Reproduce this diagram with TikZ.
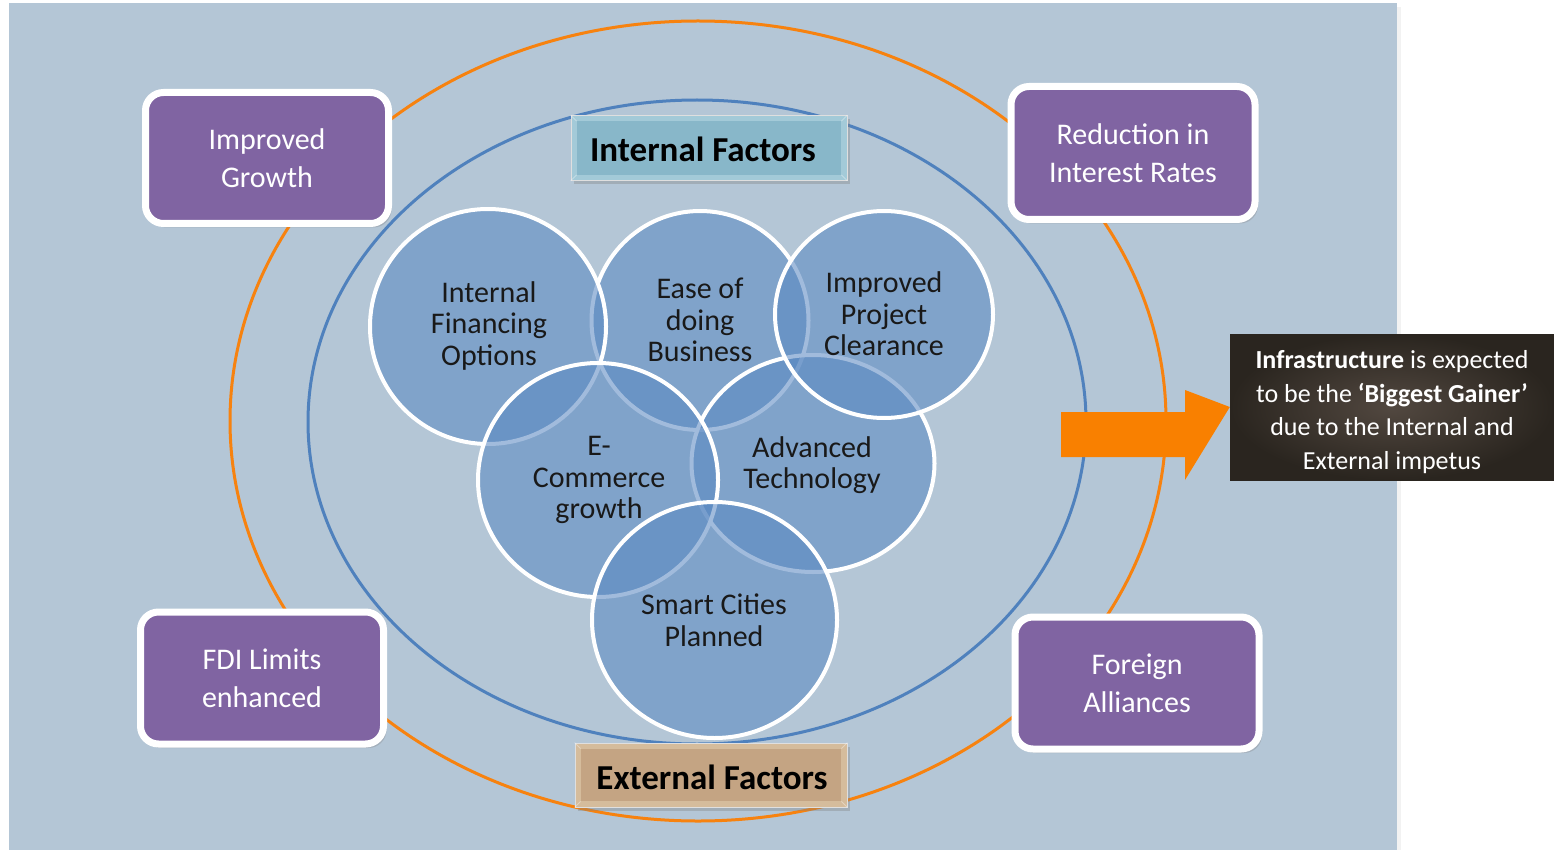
\documentclass[tikz,border=0pt]{standalone}
\usepackage{fontspec}
\setmainfont{Carlito}
\usetikzlibrary{shadows,shapes.arrows}
\definecolor{bgpanel}{HTML}{B4C6D6}
\definecolor{orangeline}{HTML}{F7820F}
\definecolor{blueline}{HTML}{4F81BD}
\definecolor{circfill}{HTML}{5A89C2}
\definecolor{purplebox}{HTML}{8064A2}
\definecolor{tealbox}{HTML}{88B7C9}
\definecolor{tealedge}{HTML}{A3CAD8}
\definecolor{tanbox}{HTML}{C4A483}
\definecolor{tanedge}{HTML}{D5BC9C}
\definecolor{darkin}{HTML}{524840}
\definecolor{darkout}{HTML}{2A251F}
\definecolor{arroworange}{HTML}{F98000}
\tikzset{
  circ/.style={fill=circfill, fill opacity=0.57, draw=white, line width=4pt},
  circtext/.style={align=center, font=\fontsize{30}{31.5}\selectfont, text=black!90},
  purplebox box/.style={rounded corners=18pt, fill=purplebox, draw=white, line width=7pt, align=center, text=white, font=\fontsize{30}{38}\selectfont, drop shadow={shadow xshift=3pt, shadow yshift=-4pt, opacity=0.3}},
  labelbox/.style={draw=white!75!gray, line width=0.8pt, drop shadow={shadow xshift=3pt, shadow yshift=-4pt, opacity=0.35}},
  labeltext/.style={font=\bfseries\fontsize{35}{40}\selectfont, text=black},
}
\begin{document}
\begin{tikzpicture}[x=1pt,y=-1pt]
\useasboundingbox (0,0) rectangle (1554,850);
% background panel
\fill[black!5] (1397,7) rectangle (1401,850);
\fill[bgpanel] (9,3) rectangle (1397,850);
% ellipses
\draw[orangeline, line width=3pt] (698,421) ellipse [x radius=468, y radius=400];
\draw[blueline, line width=3pt] (697,422) ellipse [x radius=389, y radius=322];
% circles (drawn in stacking order)
\draw[circ] (700,320.5) ellipse [x radius=108.5, y radius=109.5] coordinate (edb);
\draw[circ] (813,463.5) ellipse [x radius=121.5, y radius=108.5] coordinate (adt);
\draw[circ] (884,314.5) ellipse [x radius=109, y radius=103.5] coordinate (ipc);
\draw[circ] (488,326.5) ellipse [x radius=118, y radius=117.5] coordinate (ifo);
\draw[circ] (598,480) ellipse [x radius=120, y radius=117] coordinate (ecg);
\draw[circ] (714.5,620) ellipse [x radius=122.5, y radius=118] coordinate (scp);
% circle texts
\node[circtext] (tifo) at (489,326) {Internal\\Financing\\Options};
\node[circtext] (tedb) at (700,320) {Ease of\\doing\\Business};
\node[circtext] (tipc) at (884,314) {Improved\\Project\\Clearance};
\node[circtext] (tecg) at (599,480) {E-\\Commerce\\growth};
\node[circtext] (tadt) at (812,465) {Advanced\\Technology};
\node[circtext] (tscp) at (714,620) {Smart Cities\\Planned};
% label boxes
\node[labelbox, fill=tealedge, minimum width=276pt, minimum height=65pt] (intf) at (709,148) {};
\fill[tealbox] ([xshift=6pt,yshift=-6pt]intf.north west) rectangle ([xshift=-6pt,yshift=6pt]intf.south east);
\draw[white, opacity=0.35, line width=0.8pt] ([xshift=6pt,yshift=-6pt]intf.north west) -- (intf.north west)
  ([xshift=-6pt,yshift=-6pt]intf.north east) -- (intf.north east)
  ([xshift=6pt,yshift=6pt]intf.south west) -- (intf.south west)
  ([xshift=-6pt,yshift=6pt]intf.south east) -- (intf.south east);
\node[labeltext] (intft) at (703,149) {Internal Factors};
\node[labelbox, fill=tanedge, minimum width=272pt, minimum height=64pt] (extf) at (711,775) {};
\fill[tanbox] ([xshift=6pt,yshift=-6pt]extf.north west) rectangle ([xshift=-6pt,yshift=6pt]extf.south east);
\draw[white, opacity=0.35, line width=0.8pt] ([xshift=6pt,yshift=-6pt]extf.north west) -- (extf.north west)
  ([xshift=-6pt,yshift=-6pt]extf.north east) -- (extf.north east)
  ([xshift=6pt,yshift=6pt]extf.south west) -- (extf.south west)
  ([xshift=-6pt,yshift=6pt]extf.south east) -- (extf.south east);
\node[labeltext] (extft) at (712,777) {External Factors};
% purple boxes
\node[purplebox box, minimum width=243pt, minimum height=131pt] (ig) at (267,158) {Improved\\Growth};
\node[purplebox box, minimum width=244pt, minimum height=133pt] (rir) at (1133,153) {Reduction in\\Interest Rates};
\node[purplebox box, minimum width=243pt, minimum height=132pt] (fdi) at (262,678) {FDI Limits\\enhanced};
\node[purplebox box, minimum width=244pt, minimum height=132pt] (fa) at (1137,683) {Foreign\\Alliances};
% dark info box
\node[inner sep=0pt, minimum width=324pt, minimum height=146pt, inner color=darkin, outer color=darkout] (info) at (1392,407) {};
\node[text=white, align=center, font=\fontsize{26}{33.5}\selectfont] (infot) at (1392,412) {\textbf{Infrastructure} is expected\\to be the \textbf{‘Biggest Gainer’}\\due to the Internal and\\External impetus};
% arrow
\fill[arroworange] (1061,412) -- (1185,412) -- (1185,390) -- (info.west) -- (1185,480) -- (1185,457) -- (1061,457) -- cycle;
\end{tikzpicture}
\end{document}
